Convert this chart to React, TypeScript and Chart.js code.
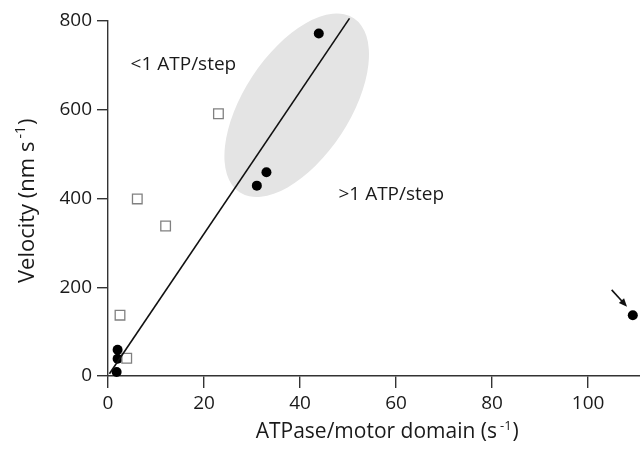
import React, { useEffect, useRef } from "react";
import { Chart, registerables } from "chart.js";

Chart.register(...registerables);

// Filled circles (x: ATPase per motor domain, y: velocity)
const filledX = [43.9, 31.0, 33.0, 2.0, 2.0, 1.8, 109.3];
const filledY = [772, 429, 459, 59, 39, 9, 137];

// Open squares
const openX = [23.0, 6.1, 12.0, 2.5, 3.9];
const openY = [591, 399, 338, 137, 40];

// Fitted line endpoints
const lineX = [0.3, 50.3];
const lineY = [5, 806];

// Ellipse major axis tips (data coords)
const ellipseX = [27.4, 51.2];
const ellipseY = [414, 806];

// Annotation labels (left edge, baseline)
const labelTexts = ["<1 ATP/step", ">1 ATP/step"];
const labelX = [4.7, 48.0];
const labelY = [690, 397];

// Arrow (start, end)
const arrowX = [104.9, 108.1];
const arrowY = [194, 156];

const xTicks = [0, 20, 40, 60, 80, 100];
const yTicks = [0, 200, 400, 600, 800];

const xTitle = ["ATPase/motor domain (s ", "-1", ")"];
const yTitle = ["Velocity (nm s ", "-1", ")"];

const FONT = "'Open Sans', 'Noto Sans', sans-serif";

function drawSupText(ctx: any, parts: string[], size: number, cx: number, baseY: number) {
  const main = `${size}px ${FONT}`;
  const sup = `${Math.round(size * 0.62)}px ${FONT}`;
  ctx.font = main;
  const w0 = ctx.measureText(parts[0]).width;
  const w2 = ctx.measureText(parts[2]).width;
  ctx.font = sup;
  const w1 = ctx.measureText(parts[1]).width;
  const total = w0 + w1 + w2;
  let x = cx - total / 2;
  ctx.textAlign = "left";
  ctx.textBaseline = "alphabetic";
  ctx.font = main;
  ctx.fillText(parts[0], x, baseY);
  x += w0 - size * 0.12;
  ctx.font = sup;
  ctx.fillText(parts[1], x, baseY - size * 0.4);
  x += w1 + size * 0.05;
  ctx.font = main;
  ctx.fillText(parts[2], x, baseY);
}

const decorPlugin = {
  id: "decor",
  beforeDatasetsDraw(chart: any) {
    const { ctx, scales } = chart;
    const x = scales.x, y = scales.y;
    const x1 = x.getPixelForValue(ellipseX[0]);
    const y1 = y.getPixelForValue(ellipseY[0]);
    const x2 = x.getPixelForValue(ellipseX[1]);
    const y2 = y.getPixelForValue(ellipseY[1]);
    const cx = (x1 + x2) / 2, cy = (y1 + y2) / 2;
    const a = Math.hypot(x2 - x1, y2 - y1) / 2;
    const ang = Math.atan2(y2 - y1, x2 - x1);
    ctx.save();
    ctx.fillStyle = "#e4e4e4";
    ctx.beginPath();
    ctx.ellipse(cx, cy, a, 53, ang, 0, Math.PI * 2);
    ctx.fill();
    ctx.restore();
  },
  afterDatasetsDraw(chart: any) {
    const { ctx, scales } = chart;
    const x = scales.x, y = scales.y;
    ctx.save();
    ctx.fillStyle = "#1a1a1a";
    ctx.font = `19px ${FONT}`;
    ctx.textBaseline = "alphabetic";
    ctx.textAlign = "left";
    labelTexts.forEach((t, i) => {
      ctx.fillText(t, x.getPixelForValue(labelX[i]), y.getPixelForValue(labelY[i]));
    });
    // arrow
    const sx = x.getPixelForValue(arrowX[0]);
    const sy = y.getPixelForValue(arrowY[0]);
    const ex = x.getPixelForValue(arrowX[1]);
    const ey = y.getPixelForValue(arrowY[1]);
    const ang = Math.atan2(ey - sy, ex - sx);
    ctx.strokeStyle = "#111";
    ctx.lineWidth = 1.6;
    ctx.beginPath();
    ctx.moveTo(sx, sy);
    ctx.lineTo(ex - 5 * Math.cos(ang), ey - 5 * Math.sin(ang));
    ctx.stroke();
    ctx.fillStyle = "#111";
    ctx.beginPath();
    ctx.moveTo(ex, ey);
    ctx.lineTo(ex - 9 * Math.cos(ang - 0.4), ey - 9 * Math.sin(ang - 0.4));
    ctx.lineTo(ex - 9 * Math.cos(ang + 0.4), ey - 9 * Math.sin(ang + 0.4));
    ctx.closePath();
    ctx.fill();
    ctx.restore();
  },
  afterDraw(chart: any) {
    const { ctx } = chart;
    ctx.save();
    ctx.fillStyle = "#1a1a1a";
    drawSupText(ctx, xTitle, 21, 388, 438);
    ctx.translate(34, 200);
    ctx.rotate(-Math.PI / 2);
    drawSupText(ctx, yTitle, 22, 0, 0);
    ctx.restore();
  },
};

export default function App() {
  const ref = useRef<HTMLCanvasElement>(null);
  useEffect(() => {
    if (!ref.current) return;
    const chart = new Chart(ref.current, {
      type: "scatter",
      data: {
        datasets: [
          {
            label: "fit",
            data: lineX.map((v, i) => ({ x: v, y: lineY[i] })),
            showLine: true,
            borderColor: "#111",
            borderWidth: 1.6,
            pointRadius: 0,
            clip: false,
          },
          {
            label: "open",
            data: openX.map((v, i) => ({ x: v, y: openY[i] })),
            pointStyle: "rect",
            pointRadius: 6.8,
            backgroundColor: "#ffffff",
            borderColor: "#808080",
            borderWidth: 1.3,
            clip: false,
          },
          {
            label: "filled",
            data: filledX.map((v, i) => ({ x: v, y: filledY[i] })),
            pointStyle: "circle",
            pointRadius: 5,
            backgroundColor: "#000",
            borderColor: "#000",
            borderWidth: 0,
            clip: false,
          },
        ],
      },
      options: {
        animation: false,
        responsive: false,
        maintainAspectRatio: false,
        layout: { autoPadding: false, padding: { top: 21, right: 0, left: 0, bottom: 0 } },
        plugins: { legend: { display: false }, tooltip: { enabled: false } },
        scales: {
          x: {
            type: "linear",
            min: 0,
            max: 110.8,
            afterBuildTicks: (s: any) => {
              s.ticks = xTicks.map((v) => ({ value: v }));
            },
            ticks: {
              font: { family: FONT, size: 19 },
              color: "#1a1a1a",
              padding: 4,
              maxRotation: 0,
            },
            grid: { drawOnChartArea: false, drawTicks: true, tickLength: 12, color: "#333", lineWidth: 1.4 },
            border: { color: "#333", width: 1.4 },
            afterFit: (s: any) => {
              s.height = 75;
              s.paddingLeft = 0;
              s.paddingRight = 0;
            },
          },
          y: {
            type: "linear",
            min: 0,
            max: 800,
            afterBuildTicks: (s: any) => {
              s.ticks = yTicks.map((v) => ({ value: v }));
            },
            ticks: {
              font: { family: FONT, size: 19 },
              color: "#1a1a1a",
              padding: 5,
            },
            grid: { drawOnChartArea: false, drawTicks: true, tickLength: 11, color: "#333", lineWidth: 1.4 },
            border: { color: "#333", width: 1.4 },
            afterFit: (s: any) => {
              s.width = 108;
              s.paddingTop = 0;
              s.paddingBottom = 0;
            },
          },
        },
      },
      plugins: [decorPlugin],
    } as any);
    return () => chart.destroy();
  }, []);
  return (
    <div style={{ position: "absolute", left: 0, top: 0, width: 640, height: 451, background: "#fff" }}>
      <canvas ref={ref} width={640} height={451} style={{ width: 640, height: 451, display: "block" }} />
    </div>
  );
}
